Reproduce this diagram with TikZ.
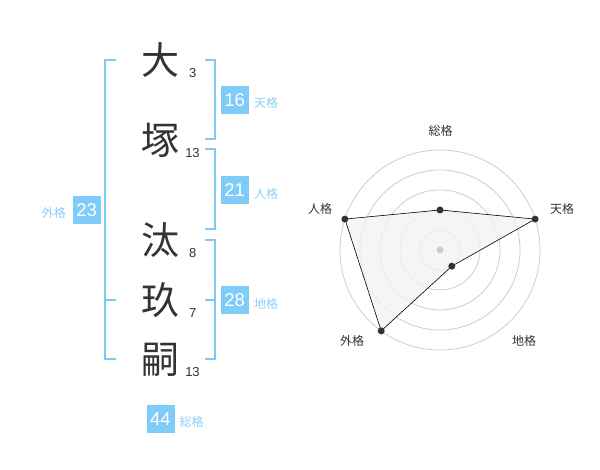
\documentclass[tikz,border=0pt]{standalone}
\usepackage{fontspec}
\setmainfont{Liberation Sans}
\newfontfamily\jp{Noto Sans CJK JP}
\definecolor{brk}{RGB}{124,203,245}
\definecolor{boxc}{RGB}{128,204,248}
\definecolor{lblc}{RGB}{140,207,245}
\definecolor{ink}{RGB}{51,51,51}
\definecolor{ring}{RGB}{204,204,204}
\definecolor{polyfill}{RGB}{242,242,242}
\tikzset{
  kanji/.style={font=\jp\fontsize{38}{38}\selectfont, text=ink, inner sep=0pt},
  stroke/.style={font=\fontsize{13}{13}\selectfont, text=ink, inner sep=0pt},
  valbox/.style={fill=boxc, text=white, minimum width=28pt, minimum height=28pt, inner sep=0pt, font=\fontsize{18.5}{18.5}\selectfont},
  kaku/.style={font=\jp\fontsize{12}{12}\selectfont, text=lblc, inner sep=0pt},
  axlbl/.style={font=\jp\fontsize{12}{12}\selectfont, text=ink, inner sep=0pt},
  bracket/.style={draw=brk, line width=2pt},
  pt/.style={circle, fill=ink, inner sep=0pt, minimum size=7pt},
}
\begin{document}
\begin{tikzpicture}[x=1pt,y=-1pt]
\useasboundingbox (0,0) rectangle (600,470);
% name characters
\node[kanji] (c1) at (160,60) {大};
\node[kanji] (c2) at (160,140) {塚};
\node[kanji] (c3) at (160,240) {汰};
\node[kanji] (c4) at (160,300) {玖};
\node[kanji] (c5) at (160,360) {嗣};
\node[stroke] (s1) at (192.7,72.7) {3};
\node[stroke] (s2) at (192.5,153) {13};
\node[stroke] (s3) at (192.7,253) {8};
\node[stroke] (s4) at (192.7,313) {7};
\node[stroke] (s5) at (192.5,372.5) {13};
% brackets
\draw[bracket] (116,60) -- (105,60) -- (105,359.3) -- (116,359.3);
\draw[bracket] (105,300) -- (116,300);
\draw[bracket] (205,60) -- (214.5,60) -- (214.5,139) -- (205,139);
\draw[bracket] (205,149.3) -- (214.5,149.3) -- (214.5,229.3) -- (205,229.3);
\draw[bracket] (205,240) -- (214.5,240) -- (214.5,359.3) -- (205,359.3);
\draw[bracket] (205,300) -- (214.5,300);
% value boxes
\node[valbox] (ten) at (234.7,99.7) {16};
\node[kaku, anchor=west] (tenl) at (254,103) {天格};
\node[valbox] (jin) at (234.7,190.3) {21};
\node[kaku, anchor=west] (jinl) at (254,193.5) {人格};
\node[valbox] (chi) at (234.7,300.5) {28};
\node[kaku, anchor=west] (chil) at (254,303.5) {地格};
\node[valbox] (gai) at (86.7,210) {23};
\node[kaku, anchor=east] (gail) at (66,213) {外格};
\node[valbox] (sou) at (160.5,419) {44};
\node[kaku, anchor=west] (soul) at (179.5,421.5) {総格};
% radar chart
\coordinate (O) at (440,250);
\foreach \r in {20,40,60,80,100}
  \draw[ring, line width=0.8pt] (O) circle[radius=\r];
\coordinate (p1) at (440,210);
\coordinate (p2) at (535.1,219.1);
\coordinate (p3) at (451.8,266.2);
\coordinate (p4) at (381.2,330.9);
\coordinate (p5) at (344.9,219.1);
\filldraw[fill=polyfill, fill opacity=0.8, draw=black, line width=0.6pt] (p1) -- (p2) -- (p3) -- (p4) -- (p5) -- cycle;
\node[circle, fill=ring, inner sep=0pt, minimum size=7pt] (ctr) at (O) {};
\foreach \p in {p1,p2,p3,p4,p5} \node[pt] at (\p) {};
\node[axlbl] (ax1) at (440.7,130.7) {総格};
\node[axlbl] (ax2) at (562,209) {天格};
\node[axlbl] (ax3) at (320,209) {人格};
\node[axlbl] (ax4) at (352,341) {外格};
\node[axlbl] (ax5) at (524,341) {地格};
\end{tikzpicture}
\end{document}
